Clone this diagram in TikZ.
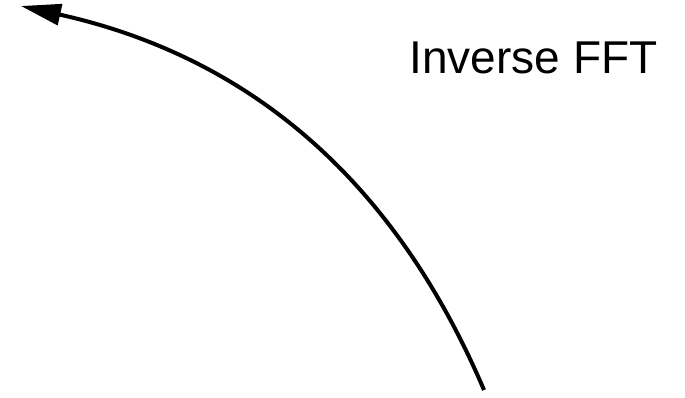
\documentclass[tikz,border=0pt]{standalone}
\usepackage{fontspec}
\setmainfont{Liberation Sans}
\usetikzlibrary{arrows.meta}
\begin{document}
\begin{tikzpicture}[x=1pt,y=-1pt,
  conn/.style={line width=4pt,-{Triangle[length=40pt,width=21pt]}},
  lbl/.style={font=\fontsize{46}{50}\selectfont,inner sep=0pt}]
\useasboundingbox (0,0) rectangle (685,398);
\coordinate (s) at (484,390);
\coordinate (e) at (21,6);
\node[lbl,anchor=base] (t) at (533.5,73.3) {Inverse FFT};
\draw[conn] (s) .. controls (420,240) and (300,68) .. (e);
\end{tikzpicture}
\end{document}
